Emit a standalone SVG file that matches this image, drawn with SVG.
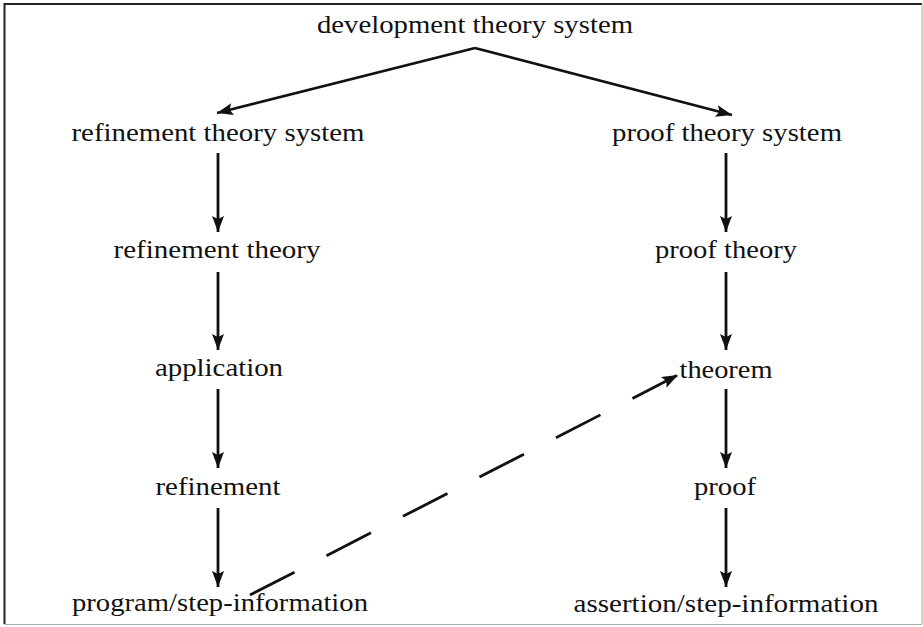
<svg xmlns="http://www.w3.org/2000/svg" width="923" height="627" viewBox="0 0 923 627">
  <defs>
    <marker id="arrow" markerUnits="userSpaceOnUse" markerWidth="18" markerHeight="13" refX="16" refY="6" orient="auto">
      <path d="M0,0 L16,6 L0,12 L3,6 z" fill="#111"/>
    </marker>
    <style>
      .lbl { font-family: "Liberation Serif", "Times New Roman", serif; font-size: 26px; fill: #111; text-anchor: middle; }
      .edge { fill: none; stroke: #111; stroke-width: 2.8; marker-end: url(#arrow); }
      .dash { stroke-dasharray: 50 36; }
      .frame-dark { fill: none; stroke: #222; stroke-width: 2; }
      .frame-light { fill: none; stroke: #aaa; stroke-width: 1; }
    </style>
  </defs>
  <rect width="923" height="627" fill="#fff"/>
  <g id="frame">
    <path class="frame-dark" d="M4.5,624 L4.5,4 L922,4"/>
    <path class="frame-light" d="M4.5,624.5 L922,624.5 M922,4 L922,624"/>
  </g>

  <g id="connectors">
    <path class="edge" d="M475,48 L217,113"/>
    <path class="edge" d="M475,48 L732,115"/>
    <path class="edge" d="M218,153 L218,232"/>
    <path class="edge" d="M218,272 L218,350"/>
    <path class="edge" d="M218,389 L218,468"/>
    <path class="edge" d="M218,508 L218,587"/>
    <path class="edge" d="M726,153 L726,232"/>
    <path class="edge" d="M726,272 L726,350"/>
    <path class="edge" d="M726,389 L726,468"/>
    <path class="edge" d="M726,508 L726,587"/>
    <path class="edge dash" d="M250,595 L678,375"/>
  </g>

  <g id="n-development-theory-system"><text class="lbl" x="475" y="33" textLength="316" lengthAdjust="spacingAndGlyphs">development theory system</text></g>
  <g id="n-refinement-theory-system"><text class="lbl" x="218" y="141" textLength="293" lengthAdjust="spacingAndGlyphs">refinement theory system</text></g>
  <g id="n-proof-theory-system"><text class="lbl" x="727" y="141" textLength="230" lengthAdjust="spacingAndGlyphs">proof theory system</text></g>
  <g id="n-refinement-theory"><text class="lbl" x="217" y="258" textLength="207" lengthAdjust="spacingAndGlyphs">refinement theory</text></g>
  <g id="n-proof-theory"><text class="lbl" x="726" y="258" textLength="142" lengthAdjust="spacingAndGlyphs">proof theory</text></g>
  <g id="n-application"><text class="lbl" x="219" y="376" textLength="128" lengthAdjust="spacingAndGlyphs">application</text></g>
  <g id="n-theorem"><text class="lbl" x="726" y="378" textLength="93" lengthAdjust="spacingAndGlyphs">theorem</text></g>
  <g id="n-refinement"><text class="lbl" x="218" y="495" textLength="125" lengthAdjust="spacingAndGlyphs">refinement</text></g>
  <g id="n-proof"><text class="lbl" x="725" y="495" textLength="62" lengthAdjust="spacingAndGlyphs">proof</text></g>
  <g id="n-program-step-information"><text class="lbl" x="220" y="611" textLength="296" lengthAdjust="spacingAndGlyphs">program/step-information</text></g>
  <g id="n-assertion-step-information"><text class="lbl" x="726" y="612" textLength="305" lengthAdjust="spacingAndGlyphs">assertion/step-information</text></g>
</svg>
